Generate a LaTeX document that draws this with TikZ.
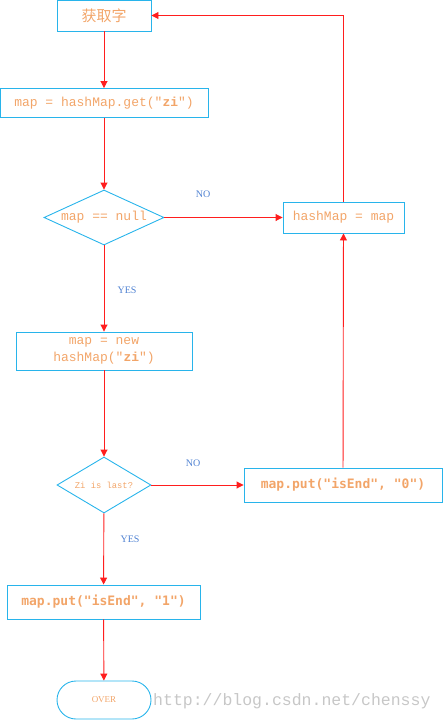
\documentclass[tikz,border=0pt]{standalone}
\usepackage{fontspec}
\setmainfont{Liberation Serif}
\newfontfamily\cjk{Noto Sans CJK SC}
\newfontfamily\mono{Liberation Mono}
\newfontfamily\bmono{DejaVu Sans Mono}
\usetikzlibrary{shapes.geometric,arrows.meta}
\definecolor{bbord}{RGB}{40,180,235}
\definecolor{otext}{RGB}{242,165,105}
\definecolor{lblue}{RGB}{80,130,210}
\definecolor{ared}{RGB}{255,30,30}
\begin{document}
\begin{tikzpicture}[x=1pt,y=-1pt,
  box/.style={draw=bbord,line width=0.9pt,rectangle,inner sep=0pt,text=otext,align=center},
  dia/.style={draw=bbord,line width=0.9pt,diamond,inner sep=0pt,text=otext},
  arr/.style={draw=ared,line width=0.9pt,-{Triangle[length=7pt,width=7pt]}},
  lbl/.style={text=lblue,font=\fontsize{10}{11}\selectfont}]
\useasboundingbox (0,0) rectangle (443,720);
\node[box,minimum width=94,minimum height=31,font=\cjk\fontsize{15}{16}\selectfont] (get) at (104,15.5) {获取字};
\node[box,minimum width=208,minimum height=29,font=\mono\fontsize{13}{14}\selectfont] (hget) at (104,103) {map = hashMap.get("\textbf{zi}")};
\node[dia,minimum width=120,minimum height=55,font=\mono\fontsize{13}{14}\selectfont] (null) at (104,217.5) {};
\node[text=otext,font=\mono\fontsize{13}{14}\selectfont] at (null) {map == null};
\node[box,minimum width=121,minimum height=31,font=\mono\fontsize{13}{14}\selectfont] (assign) at (343.5,217.5) {hashMap = map};
\node[box,minimum width=176,minimum height=38,font=\mono\fontsize{13}{17}\selectfont] (new) at (104,351) {map = new\\hashMap("\textbf{zi}")};
\node[dia,minimum width=94,minimum height=56] (last) at (104,485) {};
\node[text=otext,font=\mono\fontsize{8.8}{10}\selectfont] at (last) {Zi is last?};
\node[box,minimum width=198,minimum height=34,font=\bmono\bfseries\fontsize{13}{14}\selectfont] (put0) at (343,485) {map.put("isEnd", "0")};
\node[box,minimum width=193,minimum height=34,font=\bmono\bfseries\fontsize{13}{14}\selectfont] (put1) at (103.5,602) {map.put("isEnd", "1")};
\node[draw=bbord,line width=0.9pt,rectangle,rounded corners=19pt,minimum width=94,minimum height=38,inner sep=0pt,text=otext,font=\fontsize{9}{10}\selectfont] (over) at (104,700) {OVER};
\node[text=black!22,font=\mono\fontsize{16.5}{17}\selectfont,anchor=west,inner sep=0pt] (wm) at (153,701) {http://blog.csdn.net/chenssy};
\node[lbl] (no1) at (203,194) {NO};
\node[lbl] (yes1) at (127,290) {YES};
\node[lbl] (no2) at (193,463) {NO};
\node[lbl] (yes2) at (130,539) {YES};
\draw[arr] (get) -- (hget);
\draw[arr] (hget) -- (null);
\draw[arr] (null) -- (assign);
\draw[arr] (null) -- (new);
\draw[arr] (new) -- (last);
\draw[arr] (last) -- (put0);
\draw[arr] (last) -- (put1);
\draw[arr] (put1) -- (over);
\draw[arr] (put0) -- (assign);
\draw[arr] (assign.north) |- (get.east);
\end{tikzpicture}
\end{document}
